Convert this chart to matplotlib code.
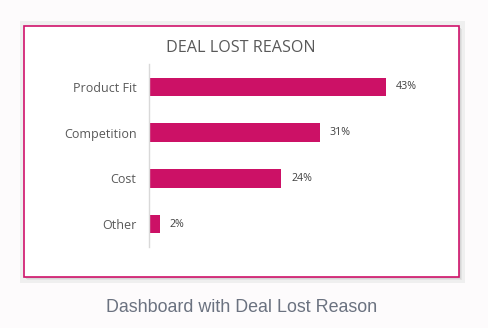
import matplotlib.pyplot as plt
from matplotlib.patches import Rectangle

reasons = ["Product Fit", "Competition", "Cost", "Other"]
shares = [43, 31, 24, 2]

W, H = 488, 328
fig = plt.figure(figsize=(W / 100, H / 100), dpi=100)
fig.patch.set_facecolor("#fdfbfc")


def px(x, y, w, h):
    # pixel box (top-left origin) -> figure fraction
    return (x / W, 1 - (y + h) / H, w / W, h / H)


# light grey backdrop behind the card
fig.patches.append(Rectangle(px(20, 21, 445, 262)[:2], 445 / W, 262 / H,
                             transform=fig.transFigure, facecolor="#efefef",
                             edgecolor="none", zorder=0))
# soft drop shadow
for i, c in enumerate(["#e2e2e2", "#d6d6d6", "#cacaca"]):
    off = 3 - i
    fig.patches.append(Rectangle(px(24 + off, 26 + off, 435, 251)[:2], 435 / W, 251 / H,
                                 transform=fig.transFigure, facecolor=c,
                                 edgecolor="none", zorder=1))
# white card with pink border
fig.patches.append(Rectangle(px(24, 26, 435, 251)[:2], 435 / W, 251 / H,
                             transform=fig.transFigure, facecolor="white",
                             edgecolor="#d0136b", linewidth=1.2, zorder=2))

ax = fig.add_axes(px(149, 64, 291, 183))
ax.set_zorder(3)
ax.patch.set_alpha(0)

pos = list(range(len(reasons)))
ax.barh(pos, shares, height=0.4, color="#cc1166")
ax.set_ylim(3.5, -0.5)
ax.set_xlim(0, 291 / (237 / 43))

for p, v in zip(pos, shares):
    ax.text(v + 1.8, p, f"{v}%", va="center", ha="left",
            fontsize=7.7, color="#404040", family="Open Sans")

ax.set_yticks(pos)
ax.set_yticklabels(reasons, fontsize=9, color="#595959", family="Open Sans")
ax.tick_params(axis="y", length=0, pad=9)
ax.set_xticks([])
for s in ["top", "right", "bottom"]:
    ax.spines[s].set_visible(False)
ax.spines["left"].set_color("#d9d9d9")
ax.spines["left"].set_linewidth(1)

fig.text(241 / W, 1 - 48 / H, "DEAL LOST REASON", ha="center", va="center",
         fontsize=11.6, color="#595959", family="Open Sans", zorder=4)

fig.text(242 / W, 1 - 307 / H, "Dashboard with Deal Lost Reason", ha="center",
         va="center", fontsize=12.9, color="#6b7280", family="Liberation Sans")

fig.savefig("out.png", dpi=100, facecolor=fig.get_facecolor())
